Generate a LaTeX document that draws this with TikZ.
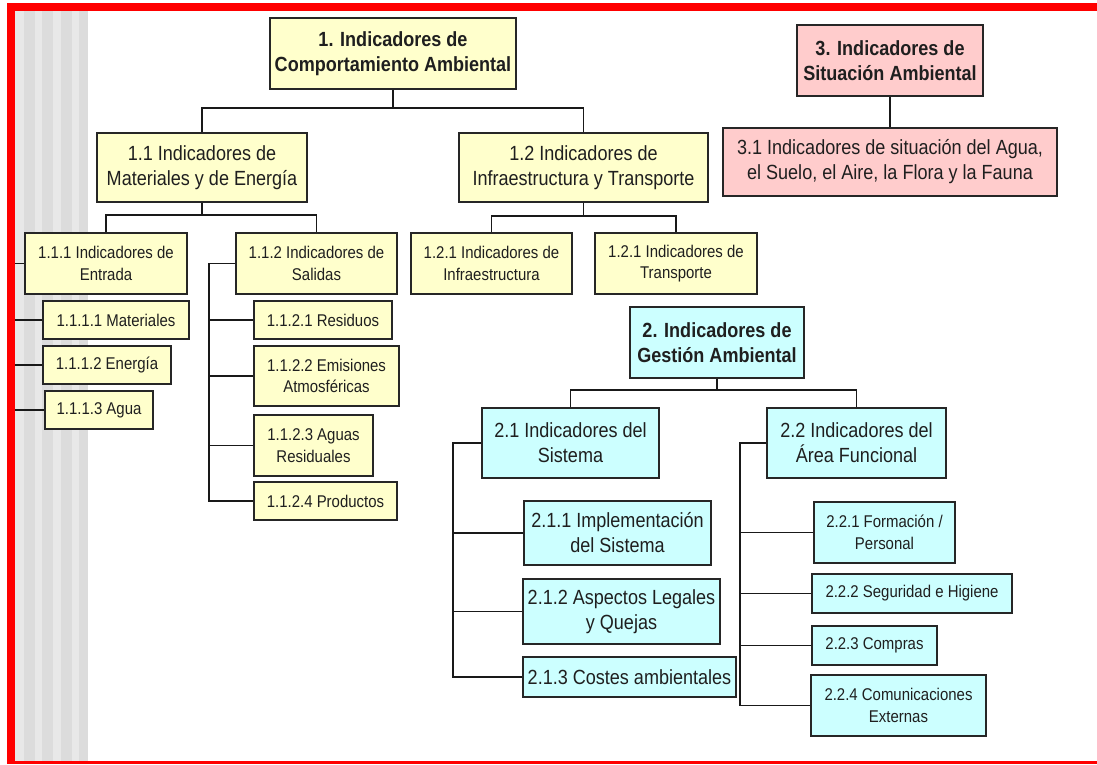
\documentclass[tikz,border=0pt]{standalone}
\usepackage{fontspec}
\setmainfont{Liberation Sans}[FakeStretch=0.88]
\definecolor{yelfill}{HTML}{FFFFCC}
\definecolor{pinkfill}{HTML}{FFCCCC}
\definecolor{cyanfill}{HTML}{CCFFFF}
\definecolor{frame}{HTML}{FF0000}
\definecolor{stripeA}{HTML}{E8E8E8}
\definecolor{stripeB}{HTML}{DCDCDC}
\tikzset{
  box/.style={draw=black!85, line width=1.6pt, inner sep=0pt, align=center, text=black!88},
  Y/.style={box, fill=yelfill},
  P/.style={box, fill=pinkfill},
  C/.style={box, fill=cyanfill},
  big/.style={font=\fontsize{20.5}{25}\selectfont},
  bigb/.style={font=\fontsize{20.5}{25}\selectfont\bfseries},
  small/.style={font=\fontsize{17}{21.5}\selectfont},
  sz/.style 2 args={minimum width=#1pt, minimum height=#2pt},
  conn/.style={line width=1.5pt, black!90}
}
\begin{document}
\begin{tikzpicture}[x=1pt,y=-1pt]
\useasboundingbox (0,0) rectangle (1097,764);
\fill[white] (0,0) rectangle (1097,764);
% left stripes
\fill[stripeA] (15,11) rectangle (88,761);
\foreach \a/\b in {24/35, 42/53, 61/72, 79/88} {\fill[stripeB] (\a,11) rectangle (\b,761);}

% ---------- nodes ----------
\node[Y,bigb,sz={246}{71}] (t1) at (393,53.5) {1. Indicadores de\\Comportamiento Ambiental};
\node[P,bigb,sz={186}{71}] (t3) at (890,60.5) {3. Indicadores de\\Situación Ambiental};
\node[P,big,sz={334}{68}] (t31) at (890,162) {3.1 Indicadores de situación del Agua,\\el Suelo, el Aire, la Flora y la Fauna};

\node[Y,big,sz={210}{69}] (b11) at (202,167.5) {1.1 Indicadores de\\Materiales y de Energía};
\node[Y,big,sz={249}{69}] (b12) at (583.5,167.5) {1.2 Indicadores de\\Infraestructura y Transporte};

\node[Y,small,sz={162}{61}] (b111) at (106,263.5) {1.1.1 Indicadores de\\Entrada};
\node[Y,small,sz={161}{61}] (b112) at (316.5,263.5) {1.1.2 Indicadores de\\Salidas};
\node[Y,small,sz={161}{61}] (b121) at (491.5,263.5) {1.2.1 Indicadores de\\Infraestructura};
\node[Y,small,sz={162}{61}] (b122) at (676,263.5) {1.2.1 Indicadores de\\Transporte};

\node[Y,small,sz={146}{38}] (b1111) at (116,320) {1.1.1.1 Materiales};
\node[Y,small,sz={128}{38}] (b1112) at (107,365) {1.1.1.2 Energía};
\node[Y,small,sz={108}{38}] (b1113) at (99,410) {1.1.1.3 Agua};

\node[Y,small,sz={138}{38}] (b1121) at (323,320) {1.1.2.1 Residuos};
\node[Y,small,sz={145}{60}] (b1122) at (326.5,376) {1.1.2.2 Emisiones\\Atmosféricas};
\node[Y,small,sz={119}{61}] (b1123) at (313.5,445.5) {1.1.2.3 Aguas\\Residuales};
\node[Y,small,sz={143}{38}] (b1124) at (325.5,501) {1.1.2.4 Productos};

\node[C,bigb,sz={174}{71}] (t2) at (717,342.5) {2. Indicadores de\\Gestión Ambiental};
\node[C,big,sz={177}{70}] (b21) at (570.5,443) {2.1 Indicadores del\\Sistema};
\node[C,big,sz={179}{70}] (b22) at (856.5,443) {2.2 Indicadores del\\Área Funcional};

\node[C,big,sz={187}{64}] (b211) at (617.5,533) {2.1.1 Implementación\\del Sistema};
\node[C,big,sz={197}{65}] (b212) at (621.5,611.5) {2.1.2 Aspectos Legales\\y Quejas};
\node[C,big,sz={213}{40}] (b213) at (629.5,677) {2.1.3 Costes ambientales};

\node[C,small,sz={141}{61}] (b221) at (884.5,532.5) {2.2.1 Formación /\\Personal};
\node[C,small,sz={200}{39}] (b222) at (912,593.5) {2.2.2 Seguridad e Higiene};
\node[C,small,sz={125}{39}] (b223) at (874.5,645.5) {2.2.3 Compras};
\node[C,small,sz={175}{61}] (b224) at (898.5,705.5) {2.2.4 Comunicaciones\\Externas};

% ---------- bus / spine coordinates ----------
\coordinate (busA) at (0,108);
\coordinate (busB) at (0,215);
\coordinate (busC) at (0,216);
\coordinate (busD) at (0,390);
\coordinate (spA) at (13,0);
\coordinate (spB) at (209,0);
\coordinate (spC) at (453,0);
\coordinate (spD) at (740,0);

% ---------- connectors ----------
\draw[conn] (t1.south) -- (t1.south |- busA);
\draw[conn] (b11.north) -- (b11.north |- busA) -- (b12.north |- busA) -- (b12.north);
\draw[conn] (t3.south) -- (t31.north);

\draw[conn] (b11.south) -- (b11.south |- busB);
\draw[conn] (b111.north) -- (b111.north |- busB) -- (b112.north |- busB) -- (b112.north);
\draw[conn] (b12.south) -- (b12.south |- busC);
\draw[conn] (b121.north) -- (b121.north |- busC) -- (b122.north |- busC) -- (b122.north);

\draw[conn] (b111.west) -- (spA |- b111.west) -- (spA |- b1113.west) -- (b1113.west);
\draw[conn] (b1111.west) -- (spA |- b1111.west);
\draw[conn] (b1112.west) -- (spA |- b1112.west);

\draw[conn] (b112.west) -- (spB |- b112.west) -- (spB |- b1124.west) -- (b1124.west);
\draw[conn] (b1121.west) -- (spB |- b1121.west);
\draw[conn] (b1122.west) -- (spB |- b1122.west);
\draw[conn] (b1123.west) -- (spB |- b1123.west);

\draw[conn] (t2.south) -- (t2.south |- busD);
\draw[conn] (b21.north) -- (b21.north |- busD) -- (b22.north |- busD) -- (b22.north);

\draw[conn] (b21.west) -- (spC |- b21.west) -- (spC |- b213.west) -- (b213.west);
\draw[conn] (b211.west) -- (spC |- b211.west);
\draw[conn] (b212.west) -- (spC |- b212.west);

\draw[conn] (b22.west) -- (spD |- b22.west) -- (spD |- b224.west) -- (b224.west);
\draw[conn] (b221.west) -- (spD |- b221.west);
\draw[conn] (b222.west) -- (spD |- b222.west);
\draw[conn] (b223.west) -- (spD |- b223.west);

% red frame
\fill[frame] (7,3) rectangle (1097,11);
\fill[frame] (7,3) rectangle (15,764);
\fill[frame] (7,760.5) rectangle (1097,764);
\end{tikzpicture}
\end{document}
